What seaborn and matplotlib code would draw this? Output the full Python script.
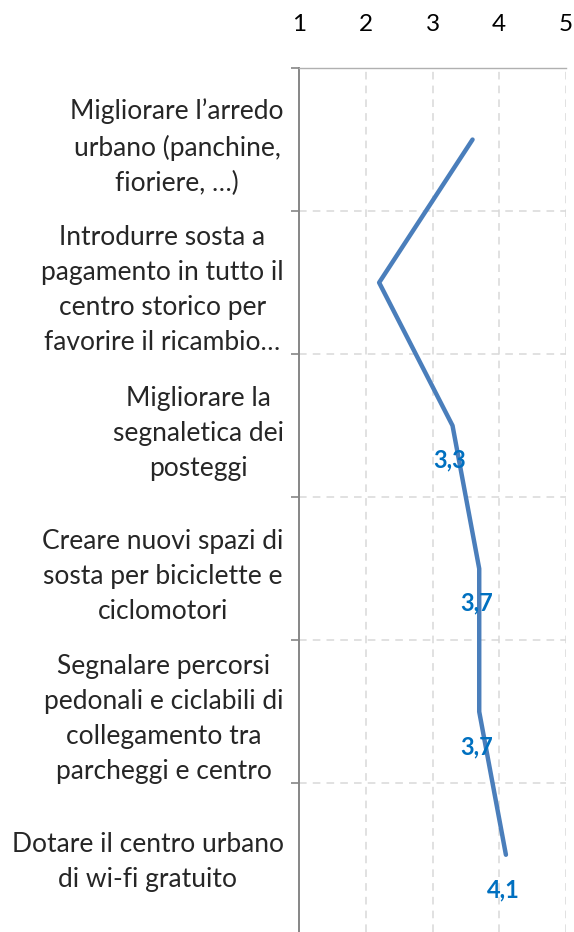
import numpy as np
import pandas as pd
import matplotlib
matplotlib.use("Agg")
import matplotlib.pyplot as plt
import seaborn as sns

# Data
categories = [
    "Migliorare l\u2019arredo\nurbano (panchine,\nfioriere, \u2026)",
    "Introdurre sosta a\npagamento in tutto il\ncentro storico per\nfavorire il ricambio\u2026",
    "Migliorare la\nsegnaletica dei\nposteggi",
    "Creare nuovi spazi di\nsosta per biciclette e\nciclomotori",
    "Segnalare percorsi\npedonali e ciclabili di\ncollegamento tra\nparcheggi e centro",
    "Dotare il centro urbano\ndi wi-fi gratuito",
]
scores = [3.6, 2.2, 3.3, 3.7, 3.7, 4.1]
show_label = [False, False, True, True, True, True]
x_ticks = [1, 2, 3, 4, 5]

sns.set_style("white")
plt.rcParams["font.family"] = ["Lato", "DejaVu Sans"]

df = pd.DataFrame({"score": scores, "pos": np.arange(len(categories))})

fig = plt.figure(figsize=(5.74, 9.32), dpi=100)
ax = fig.add_axes([0.521, 0.0, 0.465, 0.927])

sns.lineplot(data=df, x="score", y="pos", orient="y", sort=False,
             color="#4A7EBB", linewidth=3.2, ax=ax)

n = len(categories)
ax.set_xlim(1, 5)
ax.set_ylim(n - 0.46, -0.5)

# x axis on top
ax.xaxis.tick_top()
ax.set_xticks(x_ticks)
ax.set_xticklabels([str(t) for t in x_ticks], fontsize=17.5, color="black")
ax.tick_params(axis="x", length=0, pad=24)

# category labels at band centres, tick marks at band edges
ax.set_yticks(np.arange(n))
ax.set_yticklabels(categories, fontsize=19, linespacing=1.5,
                   multialignment="center")
ax.tick_params(axis="y", which="major", length=0, pad=11)
ax.set_yticks(np.arange(-0.5, n - 1, 1.0), minor=True)
ax.tick_params(axis="y", which="minor", length=6, width=1.2,
               color="#868686", left=True)

ax.set_xlabel("")
ax.set_ylabel("")

for xv in x_ticks[1:]:
    ax.axvline(xv, color="#D9D9D9", linestyle=(0, (5, 4)), linewidth=1.1, zorder=0)
ax.grid(False)
for yv in np.arange(0.5, n - 0.5, 1.0):
    ax.axhline(yv, color="#D9D9D9", linestyle=(0, (5, 4)), linewidth=1.1, zorder=0)

for side in ["right", "bottom"]:
    ax.spines[side].set_visible(False)
ax.spines["top"].set_color("#B0B0B0")
ax.spines["top"].set_linewidth(1.0)
ax.spines["left"].set_color("#868686")
ax.spines["left"].set_linewidth(1.4)

for i, (v, show) in enumerate(zip(scores, show_label)):
    if show:
        ax.annotate(f"{v:.1f}".replace(".", ","), xy=(v, i),
                    xytext=(-2, -25), textcoords="offset points",
                    ha="center", va="center", fontsize=17,
                    fontweight="bold", color="#0070C0")

fig.savefig("out.png", dpi=100)
